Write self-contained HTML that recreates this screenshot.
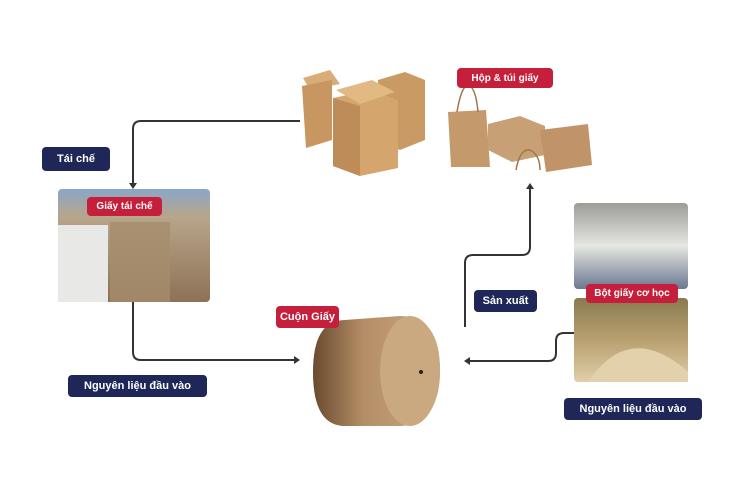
<!DOCTYPE html>
<html><head><meta charset="utf-8"><style>
body{margin:0;width:732px;height:492px;background:#fff;overflow:hidden;font-family:"Liberation Sans",sans-serif}
.l{position:absolute;color:#fff;font-weight:bold;font-size:11px;display:flex;align-items:center;justify-content:center;border-radius:4px}
.n{background:#1e2757}.r{background:#c51f3c;font-size:10px}
</style></head><body>
<svg width="732" height="492" style="position:absolute;left:0;top:0">
<defs>
<linearGradient id="roll" x1="0" x2="1"><stop offset="0" stop-color="#6a4a2e"/><stop offset=".4" stop-color="#b48e66"/><stop offset="1" stop-color="#c9a77f"/></linearGradient>
<linearGradient id="rec" x1="0" y1="0" x2="0" y2="1"><stop offset="0" stop-color="#8aa7c8"/><stop offset=".25" stop-color="#b8a58a"/><stop offset="1" stop-color="#8c7256"/></linearGradient>
<linearGradient id="pulp" x1="0" y1="0" x2="0" y2="1"><stop offset="0" stop-color="#9c9c98"/><stop offset=".5" stop-color="#e6e6e2"/><stop offset="1" stop-color="#6a7890"/></linearGradient>
<linearGradient id="saw" x1="0" y1="0" x2="0" y2="1"><stop offset="0" stop-color="#8a7a50"/><stop offset=".5" stop-color="#b8a070"/><stop offset="1" stop-color="#e0cfa8"/></linearGradient>
</defs>
<g fill="none" stroke="#333" stroke-width="2">
<path d="M300 121 H141 Q133 121 133 129 V186"/>
<path d="M133 302 V352 Q133 360 141 360 H296"/>
<path d="M465 327 V263 Q465 255 473 255 H522 Q530 255 530 247 V186"/>
<path d="M574 333 H564 Q556 333 556 341 V353 Q556 361 548 361 H467"/>
</g>
<g fill="#333">
<path d="M129 183 L133 189 L137 183Z"/>
<path d="M294 356 L300 360 L294 364Z"/>
<path d="M526 189 L530 183 L534 189Z"/>
<path d="M470 357 L464 361 L470 365Z"/>
</g>
<!-- boxes -->
<g>
<path d="M303 78 L330 70 L340 84 L310 90Z" fill="#d9ad78"/>
<path d="M302 86 L332 80 L332 140 L306 148Z" fill="#c89660"/>
<path d="M378 80 L405 72 L425 80 L425 140 L400 150 L378 140Z" fill="#c99a64"/>
<path d="M333 98 L372 90 L398 100 L398 168 L360 176 L333 166Z" fill="#d4a66e"/>
<path d="M333 98 L360 106 L360 176 L333 166Z" fill="#be8c58"/>
<path d="M336 90 L372 80 L395 92 L360 104Z" fill="#e2b982"/>
</g>
<!-- bags -->
<g>
<path d="M448 112 L486 110 L490 167 L451 167Z" fill="#c49a6c"/>
<path d="M457 112 Q462 82 470 86 Q476 90 478 112" fill="none" stroke="#a07848" stroke-width="1.5"/>
<path d="M488 124 L520 116 L545 126 L545 155 L512 162 L488 150Z" fill="#c7a076"/>
<path d="M540 130 L588 124 L592 165 L546 172Z" fill="#c09468"/>
<path d="M516 170 Q520 148 530 150 Q540 155 540 170" fill="none" stroke="#a07848" stroke-width="1.5"/>
</g>
<!-- recycled -->
<rect x="58" y="189" width="152" height="113" rx="4" fill="url(#rec)"/>
<rect x="58" y="225" width="50" height="77" fill="#e8e8e6"/>
<rect x="110" y="222" width="60" height="80" fill="#a58d6c" opacity=".8"/>
<!-- pulp -->
<rect x="574" y="203" width="114" height="86" rx="4" fill="url(#pulp)"/>
<rect x="574" y="298" width="114" height="84" rx="4" fill="url(#saw)"/>
<path d="M588 382 Q630 320 688 372 V382Z" fill="#e3d1ab"/>
<!-- roll -->
<path d="M345 320 L400 316 Q440 316 440 370 Q440 424 400 426 L345 426 Q313 426 313 372 Q313 320 345 320Z" fill="url(#roll)"/>
<ellipse cx="410" cy="371" rx="30" ry="55" fill="#caa880"/>
<circle cx="421" cy="372" r="2" fill="#222"/>
</svg>
<div class="l r" style="left:457px;top:68px;width:96px;height:20px">Hộp &amp; túi giấy</div>
<div class="l n" style="left:42px;top:147px;width:68px;height:24px">Tái chế</div>
<div class="l r" style="left:87px;top:197px;width:75px;height:19px">Giấy tái chế</div>
<div class="l n" style="left:68px;top:375px;width:139px;height:22px">Nguyên liệu đầu vào</div>
<div class="l r" style="left:276px;top:306px;width:63px;height:22px;font-size:11px">Cuộn Giấy</div>
<div class="l n" style="left:474px;top:290px;width:63px;height:22px">Sản xuất</div>
<div class="l r" style="left:586px;top:284px;width:92px;height:19px">Bột giấy cơ học</div>
<div class="l n" style="left:564px;top:398px;width:138px;height:22px">Nguyên liệu đầu vào</div>
</body></html>
